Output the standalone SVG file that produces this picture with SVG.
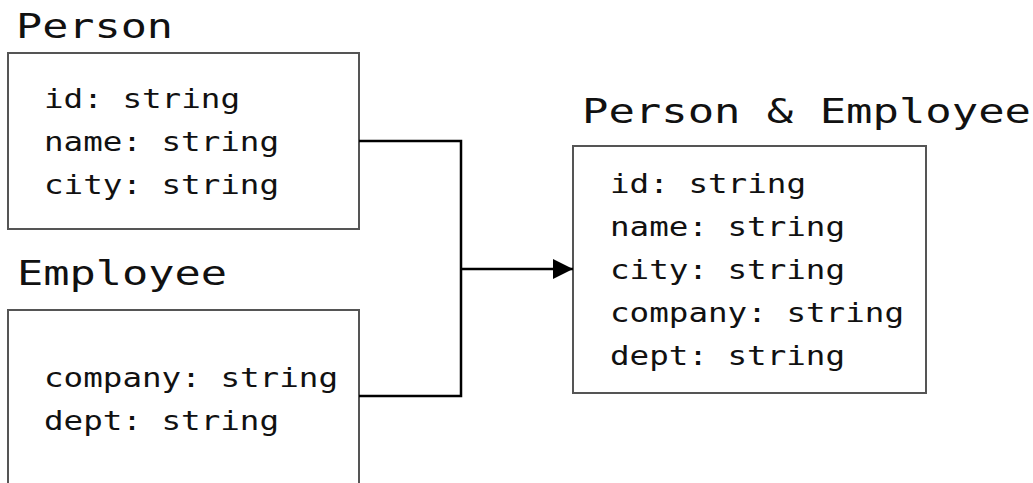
<svg xmlns="http://www.w3.org/2000/svg" width="1033" height="483" viewBox="0 0 1033 483">
<style>
.box{fill:#fff;stroke:#555;stroke-width:2}
.title{font-family:"DejaVu Sans Mono","Liberation Mono",monospace;font-size:34px;fill:#111}
.body{font-family:"DejaVu Sans Mono","Liberation Mono",monospace;font-size:26px;fill:#111}
.conn{fill:none;stroke:#000;stroke-width:2.5}
</style>
<defs>
<marker id="arrow" markerUnits="userSpaceOnUse" markerWidth="22" markerHeight="22" refX="20" refY="10" orient="auto">
<path d="M0,0 L20,10 L0,20 Z" fill="#000"/>
</marker>
</defs>
<rect width="1033" height="483" fill="#fff"/>
<g id="person">
<text class="title" x="16" y="38" textLength="157" lengthAdjust="spacingAndGlyphs">Person</text>
<rect class="box" x="8" y="53" width="351" height="176"/>
<text class="body" x="44" y="108" textLength="196" lengthAdjust="spacingAndGlyphs">id: string</text>
<text class="body" x="44" y="151" textLength="235" lengthAdjust="spacingAndGlyphs">name: string</text>
<text class="body" x="44" y="194" textLength="235" lengthAdjust="spacingAndGlyphs">city: string</text>
</g>
<g id="employee">
<text class="title" x="17" y="285" textLength="210" lengthAdjust="spacingAndGlyphs">Employee</text>
<rect class="box" x="8" y="310" width="351" height="200"/>
<text class="body" x="44" y="387" textLength="294" lengthAdjust="spacingAndGlyphs">company: string</text>
<text class="body" x="44" y="430" textLength="235" lengthAdjust="spacingAndGlyphs">dept: string</text>
</g>
<g id="person-employee">
<text class="title" x="582" y="123" textLength="449" lengthAdjust="spacingAndGlyphs">Person &amp; Employee</text>
<rect class="box" x="573" y="146" width="353" height="247"/>
<text class="body" x="610" y="193" textLength="196" lengthAdjust="spacingAndGlyphs">id: string</text>
<text class="body" x="610" y="236" textLength="235" lengthAdjust="spacingAndGlyphs">name: string</text>
<text class="body" x="610" y="279" textLength="235" lengthAdjust="spacingAndGlyphs">city: string</text>
<text class="body" x="610" y="322" textLength="294" lengthAdjust="spacingAndGlyphs">company: string</text>
<text class="body" x="610" y="365" textLength="235" lengthAdjust="spacingAndGlyphs">dept: string</text>
</g>
<g id="connectors">
<path class="conn" d="M359,141 H461 V396 H359"/>
<path class="conn" d="M461,269 H573" marker-end="url(#arrow)"/>
</g>
</svg>
